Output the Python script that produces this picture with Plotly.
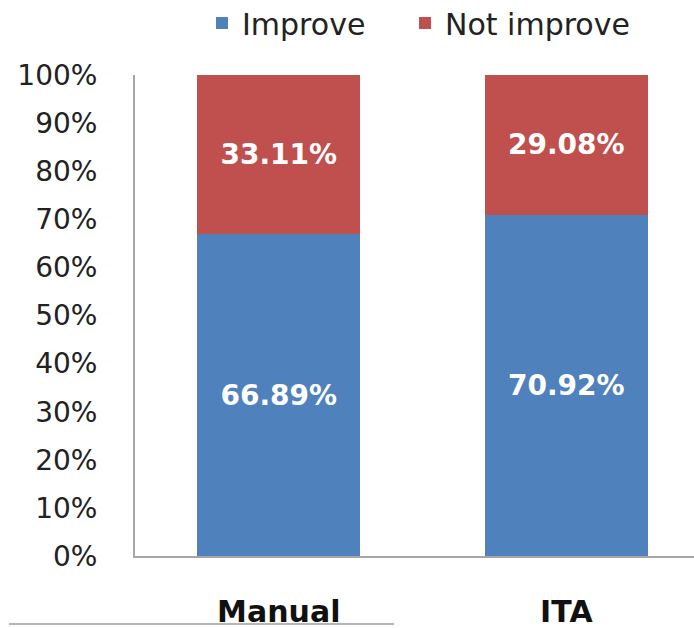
import plotly.graph_objects as go

categories = ["Manual", "ITA"]
improve = [66.89, 70.92]
not_improve = [33.11, 29.08]
y_ticks = [0, 10, 20, 30, 40, 50, 60, 70, 80, 90, 100]
y_tick_labels = [f"{v}%" for v in y_ticks]

BLUE = "#4F81BD"
RED = "#C0504D"
FONT = "DejaVu Sans"

fig = go.Figure()
for vals, name, col, lg in [(improve, "Improve", BLUE, "legend"),
                            (not_improve, "Not improve", RED, "legend2")]:
    fig.add_trace(go.Bar(
        x=categories, y=vals, name=name, marker_color=col,
        marker_line_width=0, legend=lg,
        width=0.567, texttemplate="%{y:.2f}%", textposition="inside",
        insidetextanchor="middle",
        textfont=dict(family=FONT, size=28, color="white", weight="bold"),
    ))

leg_common = dict(orientation="h", xref="container", yref="container",
                  y=1 - 23 / 628, xanchor="left", yanchor="middle", itemwidth=30,
                  font=dict(family=FONT, size=30, color="#222222"),
                  bgcolor="rgba(0,0,0,0)")

fig.update_layout(
    template="none",
    width=694, height=628,
    margin=dict(l=135, r=0, t=75, b=72),
    barmode="stack",
    plot_bgcolor="white", paper_bgcolor="white",
    font=dict(family=FONT, color="#222222"),
    legend=dict(x=202 / 694, **leg_common),
    legend2=dict(x=405 / 694, **leg_common),
    showlegend=True,
)
fig.update_xaxes(
    range=[-0.5, 1.444], showline=True, linecolor="#a6a6a6", linewidth=2,
    showgrid=False, ticks="", ticklabelstandoff=28, automargin=False,
    zeroline=False,
    tickfont=dict(family=FONT, size=30, color="#111111", weight="bold"),
)
fig.update_yaxes(
    range=[0, 100], tickvals=y_ticks, ticktext=y_tick_labels,
    showline=True, linecolor="#a6a6a6", linewidth=2, automargin=False,
    showgrid=False, zeroline=False, ticks="", ticklabelstandoff=30,
    tickfont=dict(family=FONT, size=28, color="#222222"),
)
fig.add_shape(type="line", xref="paper", yref="paper",
              x0=(9 - 135) / 559, x1=(394 - 135) / 559,
              y0=-68 / 481, y1=-68 / 481,
              line=dict(color="#b5b5b5", width=2))

fig.write_html("out.html")
